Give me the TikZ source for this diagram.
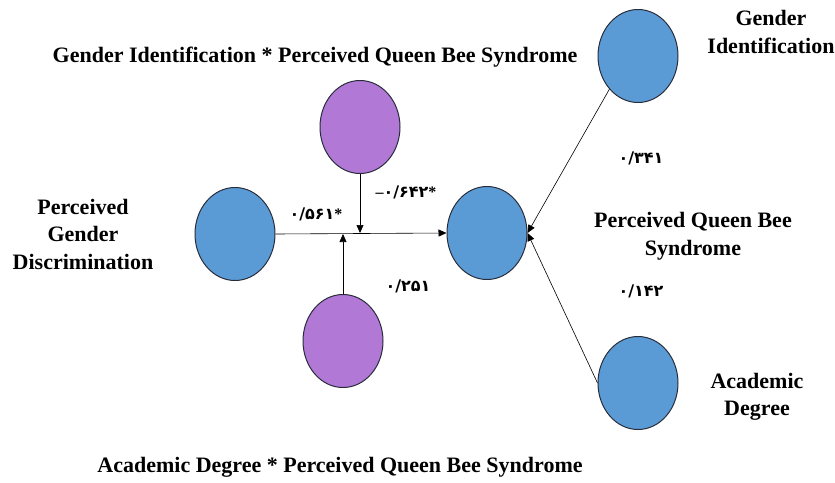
\documentclass[tikz,border=0pt]{standalone}
\usepackage{fontspec}
\setmainfont{Liberation Serif}
\newfontfamily\arabicfont[Script=Arabic]{DejaVu Sans}
\usetikzlibrary{arrows.meta,shapes.geometric}
\definecolor{blueF}{RGB}{91,155,213}
\definecolor{purpF}{RGB}{177,120,214}
\definecolor{edgeC}{RGB}{40,45,60}
\tikzset{
  x=1pt,y=-1pt,
  latent/.style={ellipse,draw=edgeC,line width=1pt,minimum width=80pt,minimum height=93pt,inner sep=0pt},
  bluev/.style={latent,fill=blueF},
  purpv/.style={latent,fill=purpF},
  lbl/.style={font=\bfseries\fontsize{22}{27.5}\selectfont,align=center},
  coef/.style={font=\bfseries\fontsize{16}{18}\selectfont},
  conn/.style={draw=black,line width=0.6pt,-{Triangle[length=8pt,width=7pt]}}
}
\newcommand{\pn}[1]{{\arabicfont\bfseries #1}}
\begin{document}
\begin{tikzpicture}
\useasboundingbox (0,0) rectangle (835,482);
\fill[white] (0,0) rectangle (835,482);
\node[bluev] (pgd) at (235,234) {};
\node[bluev] (pqb) at (487,233) {};
\node[purpv] (gi2) at (360,127) {};
\node[purpv] (ad2) at (343,341) {};
\node[bluev] (gi) at (638,56) {};
\node[bluev] (ad) at (638,383) {};
\coordinate (m1) at (360,233);
\coordinate (m2) at (343,234);
\path[conn] (pgd.east) -- (pqb.west);
\path[conn] (gi2.south) -- (m1);
\path[conn] (ad2.north) -- (m2);
\path[conn] (gi.south west) -- (pqb.east);
\path[conn] (ad.west) -- (pqb.east);
\node[lbl] (t1) at (315,57) {Gender Identification * Perceived Queen Bee Syndrome};
\node[lbl] (t2) at (340,467) {Academic Degree * Perceived Queen Bee Syndrome};
\node[lbl] (t3) at (83,234) {Perceived\\Gender\\Discrimination};
\node[lbl] (t4) at (771,32) {Gender\\Identification};
\node[lbl] (t5) at (693,236) {Perceived Queen Bee\\Syndrome};
\node[lbl] (t6) at (757,397) {Academic\\Degree};
\node[coef] (c1) at (316,214) {\pn{۰/۵۶۱}*};
\node[coef] (c2) at (406,192) {--\pn{۰/۶۴۲}*};
\node[coef] (c3) at (408,286) {\pn{۰/۲۵۱}};
\node[coef] (c4) at (641,158) {\pn{۰/۳۴۱}};
\node[coef] (c5) at (641,291) {\pn{۰/۱۴۲}};
\end{tikzpicture}
\end{document}
